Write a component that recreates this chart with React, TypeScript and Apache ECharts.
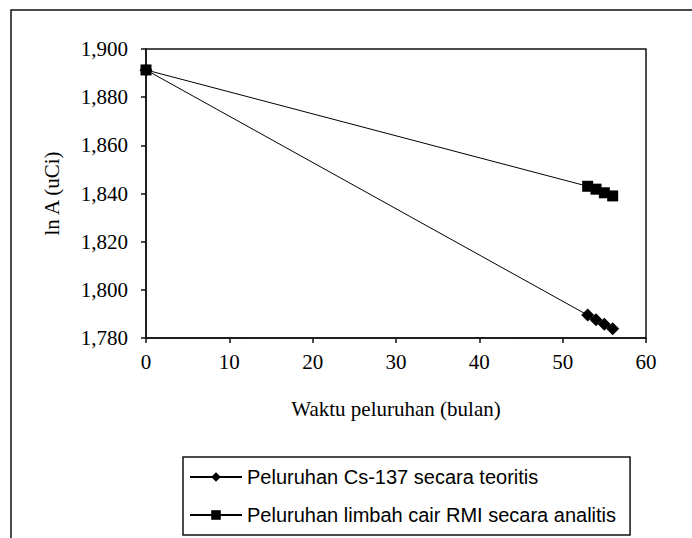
import React, { useEffect, useRef } from "react";
import * as echarts from "echarts";

const months = [0, 53, 54, 55, 56];
const teoritis = [1.8913, 1.7895, 1.7876, 1.7857, 1.7838];
const analitis = [1.8913, 1.843, 1.8418, 1.8403, 1.839];
const seriesNames = [
  "Peluruhan Cs-137 secara teoritis",
  "Peluruhan limbah cair RMI secara analitis",
];
const xTitle = "Waktu peluruhan (bulan)";
const yTitle = "ln A (uCi)";

export default function App() {
  const ref = useRef<HTMLDivElement>(null);
  useEffect(() => {
    if (!ref.current) return;
    const chart = echarts.init(ref.current, null, { renderer: "svg" });
    const serif = "'Liberation Serif', 'Times New Roman', serif";
    const sans = "'Liberation Sans', Arial, sans-serif";
    chart.setOption({
      animation: false,
      backgroundColor: "#fff",
      graphic: [
        {
          type: "rect",
          z: -10,
          shape: { x: 11, y: 10, width: 800, height: 600 },
          style: { fill: "none", stroke: "#111", lineWidth: 1.5 },
          silent: true,
        },
        {
          type: "rect",
          z: -5,
          shape: { x: 146, y: 49, width: 500, height: 289 },
          style: { fill: "none", stroke: "#111", lineWidth: 1.5 },
          silent: true,
        },
      ],
      grid: { left: 146, top: 49, width: 500, height: 289, containLabel: false },
      xAxis: {
        type: "value",
        min: 0,
        max: 60,
        interval: 10,
        name: xTitle,
        nameLocation: "middle",
        nameGap: 60,
        nameTextStyle: { fontFamily: serif, fontSize: 21, color: "#000" },
        axisLine: { show: true, onZero: false, lineStyle: { color: "#111", width: 1.5 } },
        axisTick: { show: true, inside: false, length: 5, lineStyle: { color: "#111", width: 1.5 } },
        axisLabel: { fontFamily: serif, fontSize: 21, color: "#000", margin: 13 },
        splitLine: { show: false },
      },
      yAxis: {
        type: "value",
        min: 1.78,
        max: 1.9,
        interval: 0.02,
        name: yTitle,
        nameLocation: "middle",
        nameGap: 84,
        nameRotate: 90,
        nameTextStyle: { fontFamily: serif, fontSize: 21, color: "#000" },
        axisLine: { show: true, lineStyle: { color: "#111", width: 1.5 } },
        axisTick: { show: true, inside: false, length: 5, lineStyle: { color: "#111", width: 1.5 } },
        axisLabel: {
          fontFamily: serif,
          fontSize: 21,
          color: "#000",
          margin: 18,
          formatter: (v: number) => v.toFixed(3).replace(".", ","),
        },
        splitLine: { show: false },
      },
      legend: {
        orient: "vertical",
        left: 183,
        top: 457,
        padding: [10, 14, 10, 6],
        itemGap: 18,
        itemWidth: 52,
        itemHeight: 12,
        borderColor: "#111",
        borderWidth: 1.5,
        textStyle: { fontFamily: sans, fontSize: 20, color: "#000" },
        data: seriesNames,
      },
      series: [
        {
          name: seriesNames[0],
          type: "line",
          data: months.map((m, i) => [m, teoritis[i]]),
          symbol: "diamond",
          symbolSize: 13,
          lineStyle: { color: "#000", width: 1 },
          itemStyle: { color: "#000" },
        },
        {
          name: seriesNames[1],
          type: "line",
          data: months.map((m, i) => [m, analitis[i]]),
          symbol: "rect",
          symbolSize: 11,
          lineStyle: { color: "#000", width: 1 },
          itemStyle: { color: "#000" },
        },
      ],
    });
    return () => chart.dispose();
  }, []);
  return (
    <div
      ref={ref}
      style={{ position: "fixed", left: 0, top: 0, width: 692, height: 538 }}
    />
  );
}
